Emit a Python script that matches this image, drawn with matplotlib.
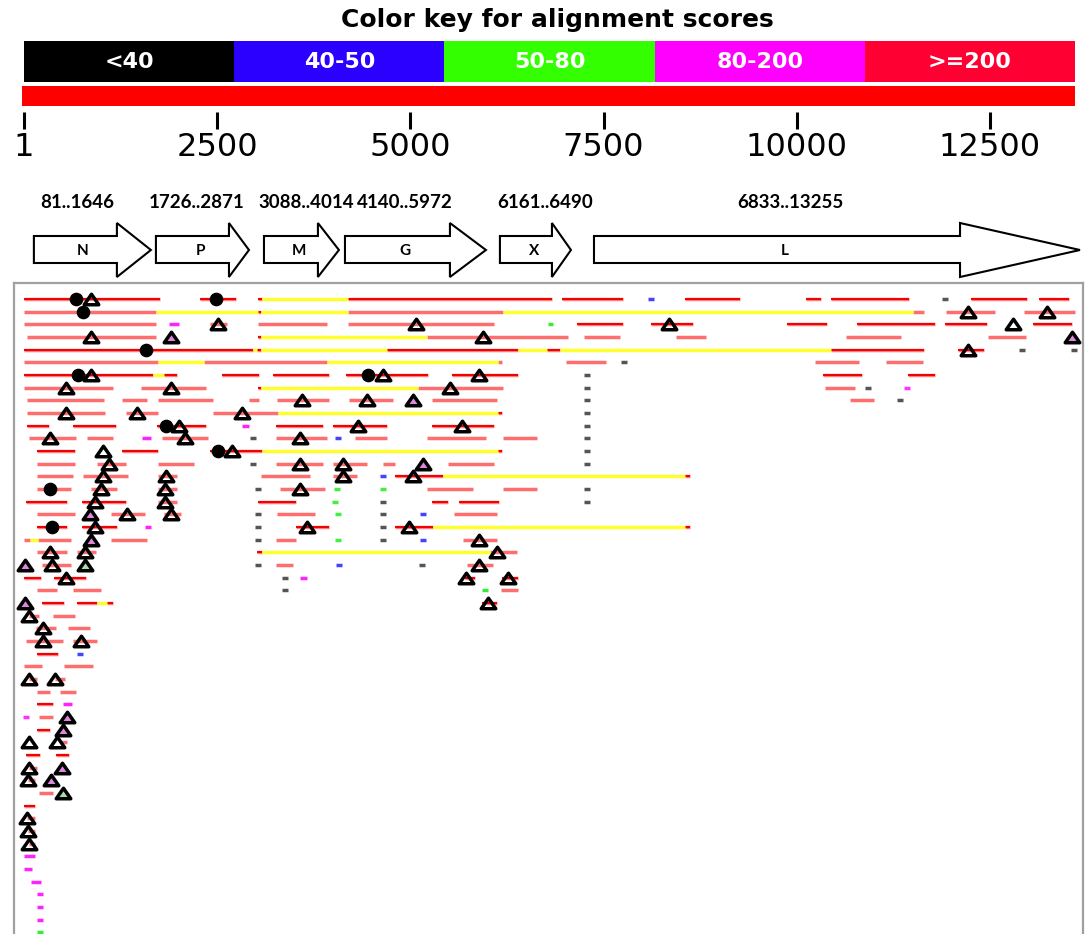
import matplotlib
matplotlib.use("Agg")
import matplotlib.pyplot as plt
from matplotlib.patches import Rectangle, Polygon
from matplotlib.path import Path

# ---- colour key / ruler ----
key_labels = ["<40", "40-50", "50-80", "80-200", ">=200"]
key_colors = ["#000000", "#2b00ff", "#33ff00", "#ff00ff", "#ff0033"]
query_len = 13600
ruler_ticks = [1, 2500, 5000, 7500, 10000, 12500]

# ---- genes (drawn extents) ----
gene_names = ["N", "P", "M", "G", "X", "L"]
gene_ranges = ["81..1646", "1726..2871", "3088..4014", "4140..5972", "6161..6490", "6833..13255"]
gene_start = [129, 1708, 3106, 4154, 6159, 7376]
gene_head = [1203, 2653, 3804, 5512, 6832, 12112]
gene_tip = [1643, 2912, 4076, 5978, 7078, 13664]
range_label_x = [686, 2239, 3649, 4930, 6742, 9912]

# ---- hits: (row, start, end) ----
strong_red = [
    (0, 1, 1760), (0, 2277, 2743), (0, 3028, 3080), (0, 4193, 6832), (0, 6962, 7751),
    (0, 8553, 9265), (0, 10119, 10313), (0, 10443, 11452), (0, 12254, 12979), (0, 13134, 13522),
    (1, 3028, 3067),
    (2, 7156, 7751), (2, 8114, 8657), (2, 9873, 10391), (2, 10779, 11788), (2, 11918, 12461),
    (2, 13056, 13561),
    (3, 3028, 3067),
    (4, 1, 2963), (4, 3015, 3067), (4, 4697, 6392), (4, 6768, 6936), (4, 10443, 11646),
    (4, 12086, 12422),
    (6, 1, 1669), (6, 1812, 1980), (6, 2562, 3041), (6, 3222, 3947), (6, 4167, 5228),
    (6, 5538, 6392), (6, 10339, 10844), (6, 11439, 11788),
    (7, 3028, 3067),
    (9, 6133, 6185),
    (10, 39, 324), (10, 634, 1190), (10, 1721, 2355), (10, 3261, 3869), (10, 3998, 4697),
    (10, 5279, 6082),
    (12, 168, 660), (12, 1268, 1734), (12, 2407, 3080), (12, 6133, 6185),
    (14, 4801, 5422), (14, 8553, 8617),
    (16, 26, 556), (16, 751, 1320), (16, 3028, 3520), (16, 5279, 5486), (16, 5629, 6147),
    (18, 168, 556), (18, 751, 1203), (18, 3520, 3947), (18, 4801, 5292), (18, 8553, 8617),
    (20, 3015, 3080),
    (22, 1, 220), (22, 388, 802), (22, 5706, 5836), (22, 6185, 6392),
    (24, 233, 518), (24, 686, 945), (24, 1074, 1152), (24, 5926, 6121),
    (28, 168, 440), (32, 168, 375), (34, 168, 336), (36, 26, 207), (36, 414, 582),
    (40, 1, 142),
]

light_red = [
    (1, 1, 1708), (1, 4193, 6198), (1, 11504, 11646), (1, 11931, 12565), (1, 12940, 13600),
    (2, 1, 1708), (2, 2407, 2627), (2, 3028, 3921), (2, 4193, 6082),
    (3, 39, 1708), (3, 5215, 7039), (3, 7246, 7712), (3, 8437, 8825), (3, 10636, 11348),
    (3, 12474, 12966),
    (5, 1, 1734), (5, 2329, 3921), (5, 6133, 6185), (5, 7013, 7531), (5, 10235, 10805),
    (5, 11154, 11633),
    (7, 1, 1152), (7, 1514, 2355), (7, 5098, 6198), (7, 10365, 10753),
    (8, 39, 1035), (8, 1268, 1592), (8, 1734, 2446), (8, 2912, 3041), (8, 3274, 3947),
    (8, 4205, 4775), (8, 5279, 6121), (8, 10688, 10999),
    (9, 39, 1048), (9, 1320, 1734), (9, 2446, 3287),
    (11, 65, 673), (11, 815, 1152), (11, 1786, 2381), (11, 3261, 3921), (11, 4283, 4697),
    (11, 5215, 5978), (11, 6198, 6638),
    (13, 168, 660), (13, 945, 1320), (13, 1734, 2200), (13, 3261, 3869), (13, 3998, 4438),
    (13, 4645, 4801), (13, 5486, 6082),
    (14, 168, 634), (14, 763, 1346), (14, 1734, 1980), (14, 3067, 3701), (14, 3998, 4309),
    (15, 168, 608), (15, 867, 1203), (15, 1734, 1980), (15, 3313, 3895), (15, 5215, 5810),
    (15, 6198, 6638),
    (16, 1734, 1980),
    (17, 168, 660), (17, 1126, 1566), (17, 1812, 2032), (17, 3274, 3765), (17, 5564, 6121),
    (19, 1, 78), (19, 181, 608), (19, 1126, 1592), (19, 3261, 3520), (19, 5681, 6121),
    (20, 168, 556), (20, 686, 932), (20, 6030, 6379),
    (21, 233, 608), (21, 3261, 3481), (21, 5732, 6069),
    (23, 168, 427), (23, 634, 996), (23, 6172, 6392),
    (25, 65, 194), (25, 375, 660),
    (26, 155, 414), (26, 569, 854),
    (27, 26, 505), (27, 634, 945),
    (29, 1, 233), (29, 518, 893),
    (30, 65, 168), (30, 401, 531),
    (31, 168, 336), (31, 466, 673),
    (33, 194, 375), (35, 466, 556), (37, 65, 168), (38, 52, 142), (39, 194, 375),
    (41, 39, 142), (42, 52, 142), (43, 65, 142),
]

yellow = [
    (0, 3080, 4193),
    (1, 1708, 3028), (1, 3067, 4193), (1, 6198, 11504),
    (3, 3067, 5215),
    (4, 2963, 3015), (4, 3067, 4697), (4, 6392, 6768), (4, 6936, 10443),
    (5, 1734, 2329), (5, 3921, 6133),
    (6, 1669, 1812),
    (7, 3067, 5098),
    (9, 3287, 6133),
    (12, 3080, 6133),
    (14, 5422, 8553),
    (18, 5292, 8553),
    (19, 78, 181),
    (20, 3080, 6030),
    (24, 945, 1074),
]

magenta = [
    (2, 1876, 2006), (10, 2821, 2912), (11, 1527, 1643), (18, 1566, 1643), (22, 3571, 3662),
    (32, 505, 621), (44, 1, 142), (45, 1, 104), (46, 91, 220), (47, 168, 246),
    (48, 168, 246), (49, 168, 246),
]
green = [(2, 6780, 6845), (23, 5926, 6004), (50, 168, 246)]

# single-point hits: (row, position)
gray_dots = [
    (0, 11918), (4, 12915), (4, 13587), (5, 7764), (6, 7285), (7, 7285), (8, 7285), (9, 7285),
    (10, 7285), (11, 7285), (12, 7285), (13, 7285), (15, 7285), (16, 7285), (7, 10921),
    (8, 11335), (11, 2963), (13, 2963), (15, 3028), (17, 3028), (18, 3028), (19, 3028),
    (21, 3028), (16, 4645), (17, 4645), (18, 4645), (19, 4645), (21, 5150), (22, 3377),
    (23, 3377),
]
green_dots = [(15, 4050), (15, 4645), (16, 4024), (17, 4063), (19, 4063)]
blue_dots = [(0, 8113), (11, 4063), (14, 4645), (17, 5163), (19, 5163), (21, 4076), (28, 725)]
magenta_dots = [(7, 11426), (33, 26)]

# markers: (row, position)
triangles = [
    (0, 867), (1, 12215), (1, 13237), (2, 2510), (2, 5072), (2, 8353), (2, 12797),
    (3, 867), (3, 5939), (4, 12215), (6, 867), (6, 4645), (6, 5888),
    (7, 543), (7, 1902), (7, 5512), (8, 3597), (8, 4438), (9, 543), (9, 1462), (9, 2821),
    (10, 2006), (10, 4322), (10, 5668), (11, 336), (11, 2083), (11, 3571),
    (12, 1022), (12, 2692), (13, 1100), (13, 3571), (13, 4128),
    (14, 1022), (14, 1837), (14, 4128), (14, 5034), (15, 996), (15, 1825), (15, 3571),
    (16, 919), (16, 1825), (17, 1333), (17, 1902), (18, 919), (18, 3662), (18, 4982),
    (19, 5888), (20, 336), (20, 789), (20, 6121), (21, 362), (21, 5888),
    (22, 543), (22, 5719), (22, 6263), (24, 6004), (25, 65), (26, 246), (27, 246), (27, 738),
    (30, 65), (30, 401), (35, 65), (35, 427), (37, 65), (38, 52), (41, 39), (42, 52), (43, 65),
]
pink_triangles = [
    (3, 1902), (3, 13561), (8, 5034), (13, 5163), (17, 854), (19, 867), (21, 13), (24, 13),
    (33, 556), (34, 505), (37, 492), (38, 349),
]
green_triangles = [(21, 789), (39, 505)]
circles = [(0, 673), (0, 2484), (1, 763), (4, 1579), (6, 699), (6, 4451), (10, 1837),
           (12, 2510), (15, 336), (18, 362)]

# ---- layout (pixels of the 1089x934 canvas) ----
W, H = 1089, 934
px_per_bp = 966 / 12499.0          # ruler: 1 at x=24, 12500 at x=990


def bp(px):
    return 1 + (px - 24) / px_per_bp


fig = plt.figure(figsize=(W / 100, H / 100), dpi=100)

hdr = fig.add_axes([0, 0, 1, 1])
hdr.set_xlim(bp(0), bp(W))
hdr.set_ylim(H, 0)
hdr.axis("off")

mid = query_len / 2 + 100
hdr.text(mid, 20, "Color key for alignment scores", ha="center", va="center",
         fontsize=18, fontweight="bold")

box_w = query_len / len(key_labels)
for i, (lab, col) in enumerate(zip(key_labels, key_colors)):
    x0 = 1 + i * box_w
    hdr.add_patch(Rectangle((x0, 41), box_w, 41, facecolor=col, edgecolor="none"))
    hdr.text(x0 + box_w / 2, 62, lab, color="white", ha="center", va="center",
             fontsize=16, fontweight="bold")

hdr.add_patch(Rectangle((bp(22), 86), query_len - bp(22), 20, facecolor="#ff0000",
                        edgecolor="none"))
hdr.vlines(ruler_ticks, 112, 129, color="black", lw=2.2)
for t in ruler_ticks:
    hdr.text(t, 147, str(t), ha="center", va="center", fontsize=23)

for name, rng, s, h, t, lx in zip(gene_names, gene_ranges, gene_start, gene_head,
                                  gene_tip, range_label_x):
    hdr.text(lx, 203, rng, ha="center", va="center", fontsize=13.5, family="Lato",
             fontweight="bold")
    verts = [(s, 236), (h, 236), (h, 223), (t, 250), (h, 277), (h, 263), (s, 263)]
    hdr.add_patch(Polygon(verts, closed=True, facecolor="white", edgecolor="black", lw=1.5))
    hdr.text((s + h) / 2 + 100, 251, name, ha="center", va="center", fontsize=11,
             family="Lato", fontweight="bold")

# ---- alignment panel ----
top_px, bot_px = 283, 940
row0_px, row_step = 299, 12.67
pan = fig.add_axes([14 / W, 1 - bot_px / H, 1069 / W, (bot_px - top_px) / H])
pan.set_xlim(bp(14), bp(1083))
pan.set_ylim((bot_px - row0_px) / row_step, (top_px - row0_px) / row_step)
pan.set_xticks([])
pan.set_yticks([])
for side in ["left", "right", "top"]:
    pan.spines[side].set_color("#a0a0a0")
    pan.spines[side].set_linewidth(1.6)
pan.spines["bottom"].set_visible(False)

lw = 2.5


def draw(segs, color, width=lw):
    rows = [r for r, a, b in segs]
    pan.hlines(rows, [a for r, a, b in segs], [b for r, a, b in segs], color=color, lw=width)


def draw_dots(dots, color):
    pan.hlines([r for r, p in dots], [p - 35 for r, p in dots], [p + 35 for r, p in dots],
               color=color, lw=lw)


draw(light_red, "#ff6e6e")
draw(strong_red, "#ff7a7a")
draw(strong_red, "#ee0000", 1.4)
draw(yellow, "#ffff2e")
draw(magenta, "#ff22ff")
draw(green, "#33ee33")
draw_dots(gray_dots, "#555555")
draw_dots(green_dots, "#44ee44")
draw_dots(blue_dots, "#4444ff")
draw_dots(magenta_dots, "#ff33ff")

tri = Path([(-1, -0.72), (1, -0.72), (0, 0.72), (-1, -0.72)],
           [Path.MOVETO, Path.LINETO, Path.LINETO, Path.CLOSEPOLY])
for pts, fc in [(triangles, "none"), (pink_triangles, "#dd88dd"), (green_triangles, "#a8dca8")]:
    pan.plot([p for r, p in pts], [r for r, p in pts], ls="none", marker=tri, ms=10.5,
             mfc=fc, mec="black", mew=2.5, zorder=4)

pan.plot([p for r, p in circles], [r for r, p in circles], ls="none", marker="o", ms=8.8,
         color="black", zorder=5)

fig.savefig("out.png", dpi=100)
